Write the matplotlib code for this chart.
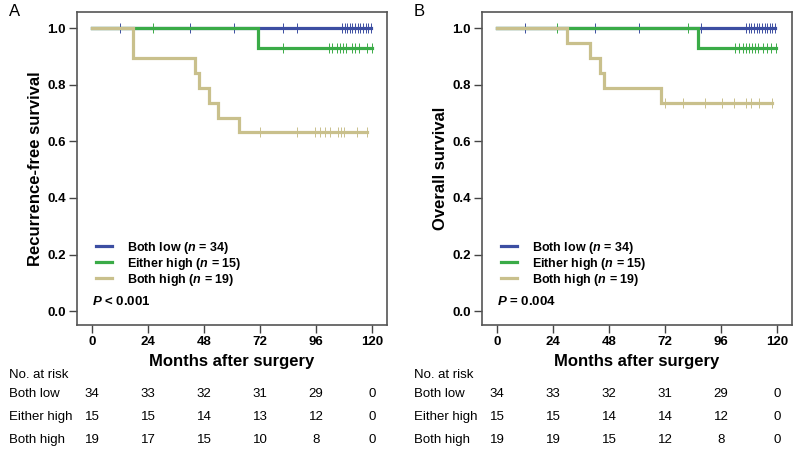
import numpy as np
import matplotlib
matplotlib.use('Agg')
import matplotlib.pyplot as plt
from matplotlib.lines import Line2D
from matplotlib.transforms import blended_transform_factory

plt.rcParams['font.family'] = ['Liberation Sans', 'DejaVu Sans']
plt.rcParams['mathtext.fontset'] = 'custom'
plt.rcParams['mathtext.it'] = 'Liberation Sans:italic:bold'
plt.rcParams['mathtext.rm'] = 'Liberation Sans:bold'

groups = ['Both low', 'Either high', 'Both high']
group_n = [34, 15, 19]
colors = ['#3c4ea2', '#3aab47', '#c9c08c']
month_ticks = [0, 24, 48, 72, 96, 120]

# Panel A: recurrence-free survival (step times / survival after each step)
rfs_low_t, rfs_low_s = [0], [1.0]
rfs_low_cens = [12, 42, 61, 82, 88, 107, 108.2, 109.3, 110.5, 111.6, 112.7, 113.9,
                115, 116.2, 117.3, 118.4, 119.4]
rfs_either_t, rfs_either_s = [0, 71], [1.0, 0.929]
rfs_either_cens = [26, 82, 101.5, 103, 105, 106.3, 107.4, 109, 111.3, 112.5, 114.6, 117.7, 119.8]
rfs_high_t = [0, 17.5, 44, 46, 50, 54, 63]
rfs_high_s = [1.0, 0.895, 0.842, 0.789, 0.737, 0.684, 0.632]
rfs_high_cens = [72, 88, 95.5, 97.7, 100, 102, 105.6, 106.6, 108, 113.4, 117.7]
rfs_risk = [[34, 33, 32, 31, 29, 0], [15, 15, 14, 13, 12, 0], [19, 17, 15, 10, 8, 0]]

# Panel B: overall survival
os_low_t, os_low_s = [0], [1.0]
os_low_cens = [12, 42, 60.7, 87.5, 106.7, 107.9, 109, 110.1, 111.3, 112.4, 113.5,
               114.7, 115.8, 116.9, 118, 119.1]
os_either_t, os_either_s = [0, 86], [1.0, 0.929]
os_either_cens = [25.6, 82, 102.1, 103.5, 105.5, 106.7, 107.8, 109.2, 110.5, 112, 113.8,
                  115.9, 117.6, 119.5]
os_high_t = [0, 30, 40, 44, 46, 70.4]
os_high_s = [1.0, 0.947, 0.895, 0.842, 0.789, 0.737]
os_high_cens = [71.8, 79.5, 89, 96.5, 101.7, 106.7, 108.8, 112.4, 117.8]
os_risk = [[34, 33, 32, 31, 29, 0], [15, 15, 14, 14, 12, 0], [19, 19, 15, 12, 8, 0]]

panels = [
    ('A', 'Recurrence-free survival', 'P < 0.001',
     [(rfs_low_t, rfs_low_s, rfs_low_cens),
      (rfs_either_t, rfs_either_s, rfs_either_cens),
      (rfs_high_t, rfs_high_s, rfs_high_cens)], rfs_risk),
    ('B', 'Overall survival', 'P = 0.004',
     [(os_low_t, os_low_s, os_low_cens),
      (os_either_t, os_either_s, os_either_cens),
      (os_high_t, os_high_s, os_high_cens)], os_risk),
]

fig = plt.figure(figsize=(8, 4.55), dpi=100)
lefts = [77 / 800, 482 / 800]
risk_rows_y = [394, 417, 440]

for (letter, ylab, ptxt, curves, risk), left in zip(panels, lefts):
    ax = fig.add_axes([left, 1 - 325 / 455, 310 / 800, 313 / 455])
    for (t, s, cens), col in zip(curves, colors):
        end = max(cens)
        xs = list(t) + [end]
        ys = list(s) + [s[-1]]
        ax.step(xs, ys, where='post', color=col, lw=2.3, solid_joinstyle='miter')
        idx = np.searchsorted(t, cens, side='right') - 1
        cy = np.array(s)[idx]
        ax.plot(cens, cy, ls='none', marker='|', ms=7, mew=0.7, color=col)
    ax.set_xlim(-6.4, 126.4)
    ax.set_ylim(-0.049, 1.057)
    ax.set_xticks(month_ticks)
    ax.set_yticks([0, 0.2, 0.4, 0.6, 0.8, 1.0])
    ax.set_yticklabels(['%.1f' % v for v in [0, 0.2, 0.4, 0.6, 0.8, 1.0]])
    for lab in ax.get_xticklabels() + ax.get_yticklabels():
        lab.set_fontweight('bold')
        lab.set_fontsize(9.5)
    ax.tick_params(direction='out', length=6, width=1, color='#444444', pad=2)
    for sp in ax.spines.values():
        sp.set_color('#555555')
        sp.set_linewidth(1.2)
    ax.set_xlabel('Months after surgery', fontsize=12, fontweight='bold')
    ax.xaxis.label.set_va('center')
    ax.xaxis.set_label_coords(0.5, -0.118)
    ax.set_ylabel(ylab, fontsize=12, fontweight='bold')
    ax.yaxis.label.set_va('center')
    ax.yaxis.set_label_coords(-0.135, 0.5)

    handles = [Line2D([], [], color=c, lw=2.3) for c in colors]
    labels = [r'%s ($n$ = %d)' % (g, n) for g, n in zip(groups, group_n)]
    ax.legend(handles, labels, loc='upper left', bbox_to_anchor=(0.04, 0.293),
              frameon=False, prop={'weight': 'bold', 'size': 9},
              handlelength=1.3, handletextpad=1.2, labelspacing=0.0, borderpad=0)
    ax.text(0, 0.035, ptxt.replace('P', r'$P$', 1), fontsize=9.5, fontweight='bold',
            va='center', ha='left')

    fig.text(left - 68 / 800, 1 - 12 / 455, letter, fontsize=12, va='center', ha='left')

    # numbers at risk table
    tr = blended_transform_factory(ax.transData, fig.transFigure)
    x0 = left - 68 / 800
    fig.text(x0, 1 - 375 / 455, 'No. at risk', fontsize=9.5, va='center')
    for g, row, yy in zip(groups, risk, risk_rows_y):
        fig.text(x0, 1 - yy / 455, g, fontsize=9.5, va='center')
        for m, v in zip(month_ticks, row):
            ax.text(m, 1 - yy / 455, str(v), transform=tr, fontsize=9.5,
                    ha='center', va='center')

fig.savefig('out.png', dpi=100)
